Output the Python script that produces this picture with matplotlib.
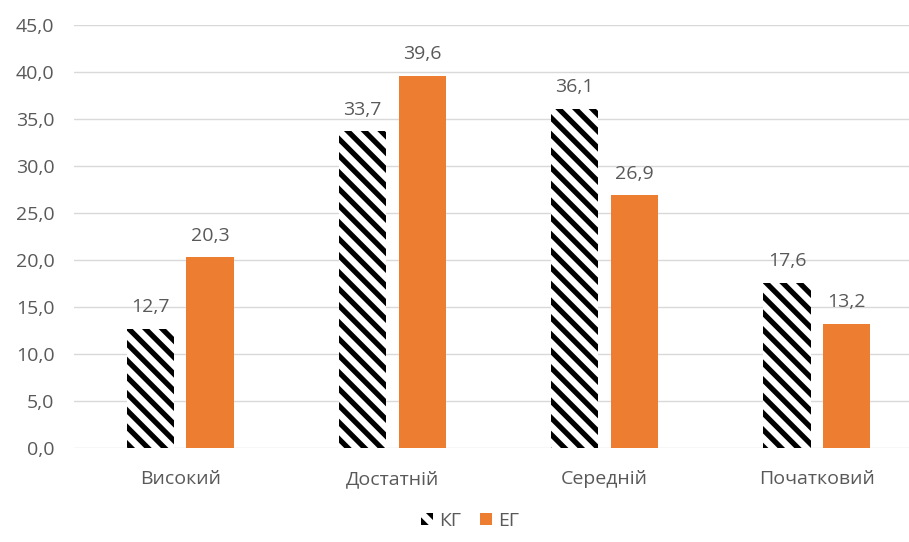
import matplotlib.pyplot as plt
import numpy as np

categories = ["Високий", "Достатній", "Середній", "Початковий"]
kg_values = [12.7, 33.7, 36.1, 17.6]
eg_values = [20.3, 39.6, 26.9, 13.2]
series_names = ["КГ", "ЕГ"]
y_ticks = [0, 5, 10, 15, 20, 25, 30, 35, 40, 45]

gray = "#595959"
orange = "#ED7D31"

plt.rcParams['font.family'] = ['Open Sans', 'DejaVu Sans']
plt.rcParams['hatch.linewidth'] = 3.8

fig = plt.figure(figsize=(9.09, 5.42), dpi=100)
ax = fig.add_axes([74 / 909, 94 / 542, 835 / 909, 423 / 542])

x = np.arange(len(categories))
w = 0.222
off = 0.141
fs = 14

kg_bars = ax.bar(x - off, kg_values, w, color="white", edgecolor="black",
                 linewidth=0, hatch="\\\\", label=series_names[0])
eg_bars = ax.bar(x + off, eg_values, w, color=orange, label=series_names[1])

for bars in (kg_bars, eg_bars):
    for b in bars:
        h = b.get_height()
        ax.annotate(f"{h:.1f}".replace(".", ","),
                    (b.get_x() + b.get_width() / 2, h),
                    xytext=(0, 9), textcoords="offset points",
                    ha="center", va="bottom", fontsize=fs, color=gray)

ax.set_ylim(0, 45)
ax.set_xlim(-0.5, 3.5 - 14 / 212)
ax.set_yticks(y_ticks)
ax.set_yticklabels([f"{v:.1f}".replace(".", ",") for v in y_ticks])
ax.set_xticks(x)
ax.set_xticklabels(categories)
ax.tick_params(axis="both", length=0, labelsize=fs, colors=gray)
ax.tick_params(axis="y", pad=14)
ax.tick_params(axis="x", pad=16)

ax.grid(axis="y", color="#d9d9d9", linewidth=1)
ax.set_axisbelow(True)
for s in ax.spines.values():
    s.set_visible(False)

leg = fig.legend(handles=[kg_bars, eg_bars], labels=series_names,
                 loc="center", bbox_to_anchor=(470 / 909, 1 - 521 / 542),
                 ncol=2, frameon=False, fontsize=fs, handlelength=0.6,
                 handleheight=0.6, handletextpad=0.3, columnspacing=1.0,
                 labelcolor=gray)

fig.savefig("out.png", dpi=100)
